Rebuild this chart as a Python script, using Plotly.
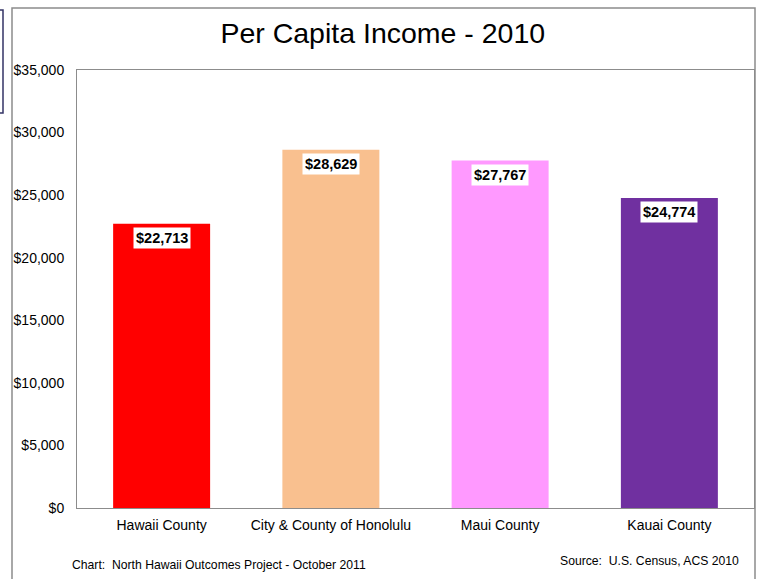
import plotly.graph_objects as go

categories = ["Hawaii County", "City & County of Honolulu", "Maui County", "Kauai County"]
values = [22713, 28629, 27767, 24774]
colors = ["#FF0000", "#F9C08F", "#FF99FF", "#7030A0"]
tick_vals = [0, 5000, 10000, 15000, 20000, 25000, 30000, 35000]
tick_text = ["$0", "$5,000", "$10,000", "$15,000", "$20,000", "$25,000", "$30,000", "$35,000"]

W, H = 761, 579
L, R, T, B = 77, 7, 70, 71
pw, ph = W - L - R, H - T - B

def px(x):
    return (x - L) / pw

def py(y):
    return (H - B - y) / ph

FONT = "Liberation Sans, Arial"

fig = go.Figure()
fig.add_trace(go.Bar(x=categories, y=values, marker=dict(color=colors, line=dict(width=0)),
                     hoverinfo="skip"))

for c, v in zip(categories, values):
    fig.add_annotation(x=c, y=v, text="<b>${:,}</b>".format(v), showarrow=False,
                       yanchor="top", yshift=-3, bgcolor="white", borderpad=2,
                       font=dict(family=FONT, size=14.5, color="black"))

fig.add_annotation(xref="paper", yref="paper", x=px(70), y=py(565), xanchor="left", yanchor="middle",
                   text="Chart:  North Hawaii Outcomes Project - October 2011", showarrow=False,
                   font=dict(family=FONT, size=12.2, color="black"))
fig.add_annotation(xref="paper", yref="paper", x=px(741), y=py(561), xanchor="right", yanchor="middle",
                   text="Source:  U.S. Census, ACS 2010", showarrow=False,
                   font=dict(family=FONT, size=12.2, color="black"))

# outer chart border
fig.add_shape(type="rect", xref="paper", yref="paper", x0=px(12), x1=px(755), y0=py(600), y1=py(8),
              line=dict(color="#8C8C8C", width=1.5), layer="below")
# small box at the left edge
fig.add_shape(type="rect", xref="paper", yref="paper", x0=px(-3), x1=px(3), y0=py(113), y1=py(10),
              line=dict(color="#333366", width=1.5))

fig.update_layout(
    width=W, height=H,
    margin=dict(l=L, r=R, t=T, b=B),
    paper_bgcolor="white", plot_bgcolor="white",
    showlegend=False,
    bargap=0.427,
    title=dict(text="Per Capita Income - 2010", x=0.503, xanchor="center", y=1 - 33 / H, yanchor="middle",
               xref="container", yref="container",
               font=dict(family=FONT, size=28.5, color="black")),
    font=dict(family=FONT, size=14, color="black"),
)
fig.update_xaxes(showline=True, linecolor="#8C8C8C", linewidth=1, mirror=True, ticks="",
                 tickfont=dict(size=14), showgrid=False, ticklabelstandoff=4)
fig.update_yaxes(range=[0, 35000], tickvals=tick_vals, ticktext=tick_text, showline=True,
                 linecolor="#8C8C8C", linewidth=1, mirror=True, ticks="", showgrid=False,
                 zeroline=False, ticklabelstandoff=9, tickfont=dict(size=14))

fig.write_html("out.html")
